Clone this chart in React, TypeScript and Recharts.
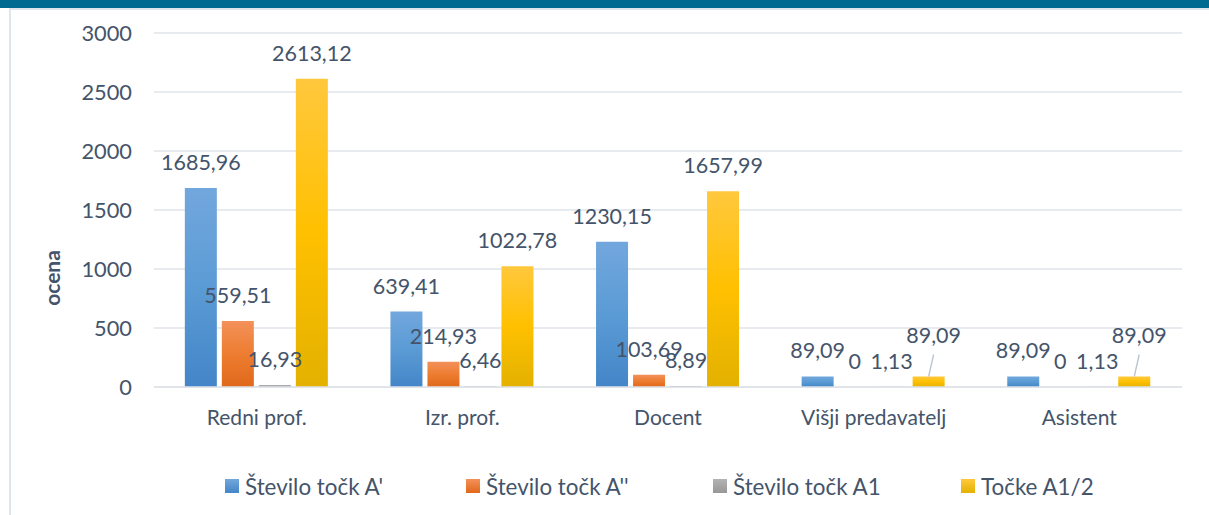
import React from "react";
import { Bar, BarChart, CartesianGrid, LabelList, Legend, XAxis, YAxis } from "recharts";

const categories = ["Redni prof.", "Izr. prof.", "Docent", "Višji predavatelj", "Asistent"];
const seriesNames = ["Število točk A'", "Število točk A''", "Število točk A1", "Točke A1/2"];
const tockeA = [1685.96, 639.41, 1230.15, 89.09, 89.09];
const tockeA2 = [559.51, 214.93, 103.69, 0, 0];
const tockeA1 = [16.93, 6.46, 8.89, 1.13, 1.13];
const tockeA12 = [2613.12, 1022.78, 1657.99, 89.09, 89.09];
const yTicks = [0, 500, 1000, 1500, 2000, 2500, 3000];

const TEXT = "#44546a";
const FONT = "Lato, 'Open Sans', sans-serif";
const KEYS = ["a", "a2", "a1", "a12"];
const GRADS = [
  ["#72a7dd", "#5b9bd5", "#4385c8"],
  ["#f3915a", "#ed7d31", "#e0681a"],
  ["#b3b3b3", "#a5a5a5", "#979797"],
  ["#ffc83d", "#ffc000", "#e3b100"],
];

const data = categories.map((name, i) => ({
  name,
  a: tockeA[i],
  a2: tockeA2[i],
  a1: tockeA1[i],
  a12: tockeA12[i],
}));

const fmt = (v: number) => (v === 0 ? "0" : v.toFixed(2).replace(".", ","));

function makeLabel(leader: boolean) {
  return (props: any) => {
    const { x, y, width, value } = props;
    const cx = x + width / 2;
    // small yellow bars get a lifted label with a leader line, like in Excel
    if (leader && value < 200) {
      return (
        <g>
          <line x1={cx} y1={y} x2={cx + 5} y2={y - 22} stroke="#b8c2cf" strokeWidth={1.3} />
          <text x={cx + 5} y={y - 33} textAnchor="middle" fill={TEXT} fontSize={21.5} fontFamily={FONT}>
            {fmt(value)}
          </text>
        </g>
      );
    }
    return (
      <text x={cx} y={y - 18} textAnchor="middle" fill={TEXT} fontSize={21.5} fontFamily={FONT}>
        {fmt(value)}
      </text>
    );
  };
}

const legendX = [225, 466, 713, 961];

function renderLegend() {
  return (
    <div style={{ position: "relative", height: 24, width: 1209, fontFamily: FONT }}>
      {seriesNames.map((n, i) => (
        <div
          key={n}
          style={{ position: "absolute", left: legendX[i], top: 0, display: "flex", alignItems: "center", height: 24 }}
        >
          <span
            style={{
              display: "inline-block",
              width: 14,
              height: 14,
              background: `linear-gradient(${GRADS[i][0]}, ${GRADS[i][2]})`,
              marginRight: 6,
            }}
          />
          <span style={{ color: TEXT, fontSize: 22.4, whiteSpace: "nowrap" }}>{n}</span>
        </div>
      ))}
    </div>
  );
}

export default function App() {
  return (
    <div style={{ position: "fixed", left: 0, top: 0, width: 1209, height: 515, background: "#fff", overflow: "hidden" }}>
      <div style={{ position: "absolute", left: 0, top: 0, width: 1209, height: 8, background: "#006a90" }} />
      <div style={{ position: "absolute", left: 9, top: 8, width: 1200, height: 2, background: "#dfe5ec" }} />
      <div style={{ position: "absolute", left: 9, top: 8, width: 2, height: 507, background: "#dfe5ec" }} />
      <div style={{ position: "absolute", left: 0, top: 0 }}>
        <BarChart
          width={1209}
          height={515}
          data={data}
          margin={{ top: 33, right: 27, bottom: 17, left: 0 }}
          barCategoryGap="15%"
          barGap={5}
        >
          <defs>
            {GRADS.map((g, i) => (
              <linearGradient key={i} id={`grad${i}`} x1="0" y1="0" x2="0" y2="1">
                <stop offset="0%" stopColor={g[0]} />
                <stop offset="50%" stopColor={g[1]} />
                <stop offset="100%" stopColor={g[2]} />
              </linearGradient>
            ))}
          </defs>
          <CartesianGrid vertical={false} stroke="#dfe3e8" strokeWidth={1.7} />
          <XAxis
            dataKey="name"
            height={87}
            axisLine={{ stroke: "#dfe3e8", strokeWidth: 1.7 }}
            tickLine={false}
            tickSize={0}
            tickMargin={23}
            tick={{ fill: TEXT, fontSize: 21, fontFamily: FONT }}
          />
          <YAxis
            width={154}
            domain={[0, 3000]}
            ticks={yTicks}
            axisLine={false}
            tickLine={false}
            tickSize={0}
            tickMargin={22}
            tick={{ fill: TEXT, fontSize: 21.8, fontFamily: FONT }}
            label={{
              content: () => (
                <text
                  x={51}
                  y={278}
                  transform="rotate(-90 51 278)"
                  textAnchor="middle"
                  dominantBaseline="central"
                  fill={TEXT}
                  fontSize={21}
                  fontWeight="bold"
                  fontFamily={FONT}
                >
                  ocena
                </text>
              ),
            }}
          />
          <Legend verticalAlign="bottom" content={renderLegend} />
          {KEYS.map((k, i) => (
            <Bar
              key={k}
              dataKey={k}
              name={seriesNames[i]}
              fill={`url(#grad${i})`}
              minPointSize={0.01}
              isAnimationActive={false}
            >
              <LabelList dataKey={k} content={makeLabel(i === 3)} />
            </Bar>
          ))}
        </BarChart>
      </div>
    </div>
  );
}
